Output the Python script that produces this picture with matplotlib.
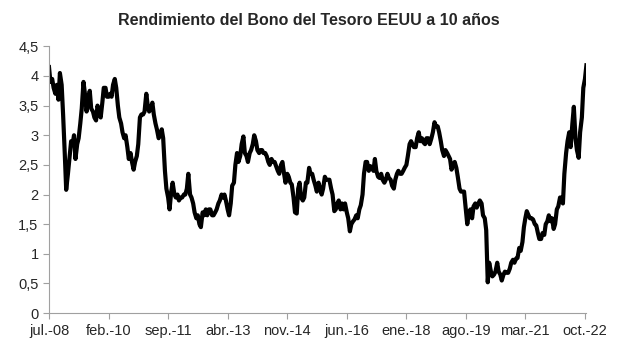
import numpy as np
import pandas as pd
import matplotlib as mpl
mpl.use('Agg')
import matplotlib.pyplot as plt

plt.rcParams['font.family'] = ['Liberation Sans', 'DejaVu Sans']

# rendimiento a 10 años, dos lecturas por mes (dia 1 y 15)
y2008 = [4.15, 3.90, 3.95, 3.80, 3.70, 3.85, 3.60, 4.05, 3.85, 3.35, 2.70, 2.08]
y2009 = [2.35, 2.60, 2.90, 2.85, 3.00, 2.60, 2.85, 2.95, 3.20, 3.45, 3.90, 3.70,
         3.40, 3.60, 3.75, 3.45, 3.40, 3.30, 3.25, 3.50, 3.40, 3.30, 3.55, 3.80]
y2010 = [3.80, 3.65, 3.65, 3.70, 3.65, 3.85, 3.95, 3.80, 3.50, 3.30, 3.20, 3.05,
         2.95, 3.00, 2.80, 2.60, 2.70, 2.55, 2.42, 2.55, 2.65, 2.85, 3.30, 3.35]
y2011 = [3.35, 3.40, 3.70, 3.50, 3.40, 3.45, 3.55, 3.35, 3.20, 3.10, 2.95, 3.00,
         3.10, 2.95, 2.40, 2.10, 1.95, 1.75, 2.05, 2.20, 2.00, 1.95, 2.00, 1.90]
y2012 = [1.95, 1.95, 2.00, 2.00, 2.10, 2.35, 2.00, 1.95, 1.85, 1.70, 1.60, 1.65,
         1.50, 1.45, 1.70, 1.65, 1.75, 1.65, 1.75, 1.75, 1.65, 1.65, 1.70, 1.75]
y2013 = [1.85, 1.90, 2.00, 1.95, 2.00, 1.90, 1.75, 1.65, 1.85, 2.15, 2.20, 2.50,
         2.70, 2.55, 2.65, 2.85, 2.98, 2.70, 2.65, 2.55, 2.70, 2.75, 2.85, 3.00]
y2014 = [2.90, 2.75, 2.70, 2.75, 2.75, 2.70, 2.70, 2.65, 2.55, 2.50, 2.60, 2.55,
         2.55, 2.48, 2.40, 2.35, 2.50, 2.55, 2.35, 2.20, 2.35, 2.30, 2.20, 2.17]
y2015 = [1.95, 1.70, 1.68, 2.10, 2.20, 1.95, 1.90, 1.95, 2.20, 2.20, 2.45, 2.35,
         2.35, 2.25, 2.15, 2.05, 2.20, 2.10, 2.00, 2.10, 2.30, 2.25, 2.25, 2.25]
y2016 = [2.10, 2.00, 1.72, 1.75, 1.85, 1.90, 1.75, 1.85, 1.75, 1.85, 1.70, 1.60,
         1.38, 1.50, 1.55, 1.58, 1.65, 1.60, 1.75, 1.82, 2.00, 2.35, 2.55, 2.55]
y2017 = [2.40, 2.48, 2.45, 2.40, 2.60, 2.40, 2.30, 2.28, 2.35, 2.25, 2.20, 2.25,
         2.35, 2.28, 2.25, 2.15, 2.10, 2.25, 2.35, 2.40, 2.35, 2.35, 2.40, 2.45]
y2018 = [2.50, 2.65, 2.85, 2.90, 2.85, 2.80, 2.80, 2.95, 3.05, 2.90, 2.95, 2.88,
         2.85, 2.95, 2.95, 2.85, 2.95, 3.05, 3.22, 3.15, 3.15, 3.05, 2.90, 2.75]
y2019 = [2.65, 2.75, 2.70, 2.65, 2.60, 2.42, 2.50, 2.55, 2.45, 2.30, 2.10, 2.05,
         2.05, 2.05, 1.75, 1.50, 1.70, 1.75, 1.60, 1.80, 1.85, 1.78, 1.85, 1.90]
y2020 = [1.85, 1.65, 1.60, 1.40, 0.52, 0.85, 0.70, 0.62, 0.65, 0.70, 0.85, 0.70,
         0.65, 0.55, 0.65, 0.70, 0.68, 0.68, 0.75, 0.85, 0.90, 0.85, 0.92, 0.93]
y2021 = [1.10, 1.05, 1.20, 1.45, 1.60, 1.72, 1.65, 1.60, 1.60, 1.58, 1.50, 1.48,
         1.35, 1.25, 1.25, 1.35, 1.32, 1.50, 1.55, 1.65, 1.55, 1.60, 1.42, 1.50]
y2022 = [1.75, 1.80, 1.95, 1.95, 1.85, 2.35, 2.70, 2.90, 3.05, 2.80, 3.20, 3.48,
         2.95, 2.75, 2.62, 3.05, 3.30, 3.80, 3.95, 4.18]

rend = (y2008 + y2009 + y2010 + y2011 + y2012 + y2013 + y2014 + y2015 +
        y2016 + y2017 + y2018 + y2019 + y2020 + y2021 + y2022)
fechas = pd.date_range('2008-07-01', periods=len(rend), freq='SMS')

tick_fechas = pd.to_datetime(['2008-07-01', '2010-02-01', '2011-09-01', '2013-04-01',
                              '2014-11-01', '2016-06-01', '2018-01-01', '2019-08-01',
                              '2021-03-01', '2022-10-01'])
tick_labels = ['jul.-08', 'feb.-10', 'sep.-11', 'abr.-13', 'nov.-14',
               'jun.-16', 'ene.-18', 'ago.-19', 'mar.-21', 'oct.-22']
y_ticks = [0, 0.5, 1, 1.5, 2, 2.5, 3, 3.5, 4, 4.5]
y_labels = ['0', '0,5', '1', '1,5', '2', '2,5', '3', '3,5', '4', '4,5']

fig = plt.figure(figsize=(6.17, 3.62), dpi=100)
ax = fig.add_axes([0.0794, 0.135, 0.871, 0.737])
ax.plot(fechas, rend, color='black', lw=3.0, solid_joinstyle='round')

ax.set_xlim(fechas[0], fechas[-1])
ax.set_ylim(0, 4.5)
ax.set_xticks(tick_fechas)
ax.set_xticklabels(tick_labels)
ax.set_yticks(y_ticks)
ax.set_yticklabels(y_labels)
ax.tick_params(labelsize=10.5, colors='#a0a0a0', labelcolor='#262626', length=4, width=0.8)

for s in ['top', 'right']:
    ax.spines[s].set_visible(False)
for s in ['left', 'bottom']:
    ax.spines[s].set_color('#a0a0a0')
    ax.spines[s].set_linewidth(0.8)

fig.suptitle('Rendimiento del Bono del Tesoro EEUU a 10 años', x=0.5, y=0.965,
             fontsize=11.5, fontweight='bold', color='#262626')

plt.savefig('out.png', dpi=100)
